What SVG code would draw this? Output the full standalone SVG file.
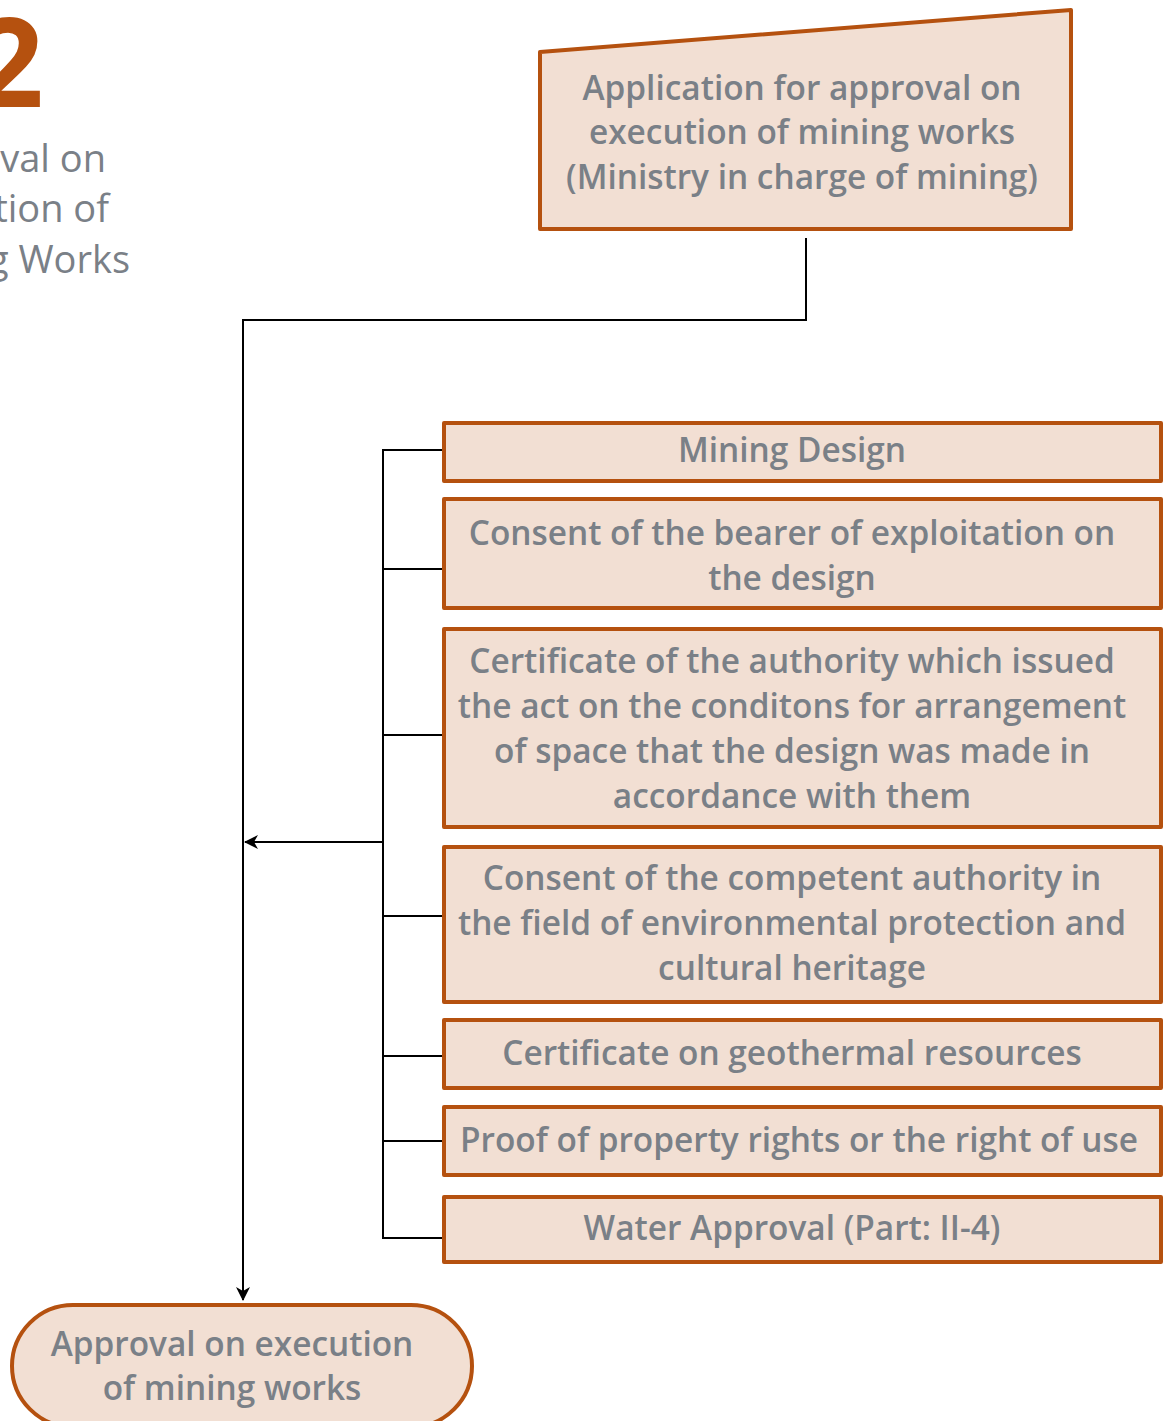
<svg xmlns="http://www.w3.org/2000/svg" width="1163" height="1421" viewBox="0 0 1163 1421">
  <style>
    .box { fill: #F2DFD3; stroke: #B5510F; stroke-width: 4; stroke-linejoin: round; }
    .lbl { font-family: "Open Sans", "Noto Sans", sans-serif; font-weight: 600; font-size: 33.4px; fill: #7A8087; text-anchor: middle; }
    .side { font-family: "Open Sans", "Noto Sans", sans-serif; font-size: 38px; fill: #7A8087; text-anchor: end; }
    .num { font-family: "Open Sans", "Noto Sans", sans-serif; font-weight: 700; font-size: 124px; fill: #B5510F; text-anchor: end; }
    .wire { fill: none; stroke: #000; stroke-width: 2; }
  </style>
  <defs>
    <marker id="arrow" viewBox="0 0 14 14" refX="13" refY="7" markerWidth="14" markerHeight="14" markerUnits="userSpaceOnUse" orient="auto">
      <path d="M0,0 L14,7 L0,14 L4,7 z" fill="#000"/>
    </marker>
  </defs>

  <rect width="1163" height="1421" fill="#fff"/>

  <!-- section heading -->
  <g id="heading">
    <text class="num" x="44" y="107">2</text>
    <text class="side" x="106" y="172">val on</text>
    <text class="side" x="109" y="222">tion of</text>
    <text class="side" x="130" y="273">g Works</text>
  </g>

  <!-- connectors -->
  <g id="connectors">
    <path class="wire" d="M806,238 V320 H243 V1300" marker-end="url(#arrow)"/>
    <path class="wire" d="M443,450 H383 V1238 H443"/>
    <path class="wire" d="M383,569 H443 M383,735 H443 M383,916 H443 M383,1056 H443 M383,1141 H443"/>
    <path class="wire" d="M383,842 H245" marker-end="url(#arrow)"/>
  </g>

  <g id="application">
    <polygon class="box" points="540,52 1071,10 1071,229 540,229"/>
    <text class="lbl" x="802" y="100">Application for approval on</text>
    <text class="lbl" x="802" y="144">execution of mining works</text>
    <text class="lbl" x="802" y="189">(Ministry in charge of mining)</text>
  </g>

  <g id="mining-design">
    <rect class="box" x="444" y="423" width="717" height="58"/>
    <text class="lbl" x="792" y="462">Mining Design</text>
  </g>

  <g id="consent-bearer">
    <rect class="box" x="444" y="499" width="717" height="109"/>
    <text class="lbl" x="792" y="545">Consent of the bearer of exploitation on</text>
    <text class="lbl" x="792" y="590">the design</text>
  </g>

  <g id="certificate-authority">
    <rect class="box" x="444" y="629" width="717" height="198"/>
    <text class="lbl" x="792" y="673">Certificate of the authority which issued</text>
    <text class="lbl" x="792" y="718">the act on the conditons for arrangement</text>
    <text class="lbl" x="792" y="763">of space that the design was made in</text>
    <text class="lbl" x="792" y="808">accordance with them</text>
  </g>

  <g id="consent-environment">
    <rect class="box" x="444" y="847" width="717" height="155"/>
    <text class="lbl" x="792" y="890">Consent of the competent authority in</text>
    <text class="lbl" x="792" y="935">the field of environmental protection and</text>
    <text class="lbl" x="792" y="980">cultural heritage</text>
  </g>

  <g id="geothermal">
    <rect class="box" x="444" y="1020" width="717" height="68"/>
    <text class="lbl" x="792" y="1065">Certificate on geothermal resources</text>
  </g>

  <g id="property-rights">
    <rect class="box" x="444" y="1107" width="717" height="68"/>
    <text class="lbl" x="799" y="1152">Proof of property rights or the right of use</text>
  </g>

  <g id="water-approval">
    <rect class="box" x="444" y="1197" width="717" height="65"/>
    <text class="lbl" x="792" y="1240">Water Approval (Part: II-4)</text>
  </g>

  <g id="approval">
    <rect class="box" x="12" y="1305" width="460" height="122" rx="61" ry="61"/>
    <text class="lbl" x="232" y="1356">Approval on execution</text>
    <text class="lbl" x="232" y="1400">of mining works</text>
  </g>
</svg>
